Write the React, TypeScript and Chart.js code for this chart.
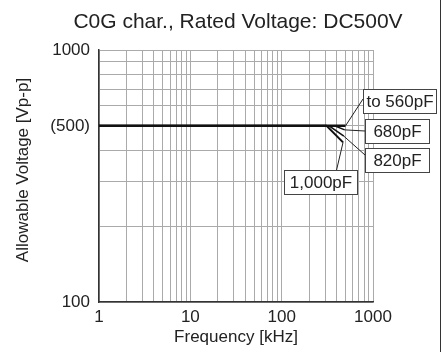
import React, { useEffect, useRef } from "react";
import { Chart, registerables } from "chart.js";

Chart.register(...registerables);

// ---- data ----
const seriesNames = ["to 560pF", "680pF", "820pF", "1,000pF"];
const freq560 = [1, 500];
const volt560 = [500, 500];
const freq680 = [1, 380, 490];
const volt680 = [500, 500, 482];
const freq820 = [1, 330, 480];
const volt820 = [500, 500, 455];
const freq1000 = [1, 310, 470];
const volt1000 = [500, 500, 430];

const xTickValues = [1, 2, 3, 4, 5, 6, 7, 8, 9, 10, 20, 30, 40, 50, 60, 70, 80, 90, 100, 200, 300, 400, 500, 600, 700, 800, 900, 1000];
const xTickLabels: Record<number, string> = { 1: "1", 10: "10", 100: "100", 1000: "1000" };
const yTickValues = [100, 200, 300, 400, 500, 600, 700, 800, 900, 1000];
const yTickLabels: Record<number, string> = { 100: "100", 500: "(500)", 1000: "1000" };

const titleText = "C0G char., Rated Voltage: DC500V";
const xTitle = "Frequency [kHz]";
const yTitle = "Allowable Voltage [Vp-p]";

// callout label anchors (data space: left-middle of box)
const labelFreq = [779, 819, 819, 106];
const labelVolt = [625, 479, 366, 298];

const FONT = "'Liberation Sans', Arial, Helvetica, sans-serif";
const boxWidths = [73, 64, 64, 73];

function pts(xs: number[], ys: number[]) {
  return xs.map((x, i) => ({ x, y: ys[i] }));
}

const calloutPlugin = {
  id: "callouts",
  afterDatasetsDraw(chart: any) {
    const { ctx } = chart;
    const xs = chart.scales.x;
    const ys = chart.scales.y;
    ctx.save();
    ctx.font = `17px ${FONT}`;
    ctx.textBaseline = "middle";
    ctx.textAlign = "center";
    chart.data.datasets.forEach((ds: any, i: number) => {
      const last = ds.data[ds.data.length - 1];
      const ex = xs.getPixelForValue(last.x);
      const ey = ys.getPixelForValue(last.y);
      const bx = Math.round(xs.getPixelForValue(labelFreq[i]));
      const by = Math.round(ys.getPixelForValue(labelVolt[i]));
      const text = seriesNames[i];
      const w = boxWidths[i];
      const h = 24;
      let ax = bx, ay = by;
      if (i === 3) {
        ax = bx + w * 0.72;
        ay = by - h / 2;
      } else if (i === 2) {
        ay = by - 5;
      } else if (i === 0) {
        ay = by - 2;
      }
      ctx.strokeStyle = "#222";
      ctx.lineWidth = 1;
      ctx.beginPath();
      ctx.moveTo(ex, ey);
      ctx.lineTo(ax, ay);
      ctx.stroke();
      ctx.fillStyle = "#fff";
      ctx.fillRect(bx, by - h / 2, w, h);
      ctx.strokeStyle = "#444";
      ctx.strokeRect(bx + 0.5, by - h / 2 + 0.5, w, h);
      ctx.fillStyle = "#222";
      ctx.fillText(text, bx + w / 2 + 0.5, by + 1);
    });
    ctx.restore();
  },
  afterDraw(chart: any) {
    const { ctx } = chart;
    ctx.save();
    ctx.fillStyle = "#222";
    ctx.textAlign = "center";
    ctx.textBaseline = "middle";
    ctx.font = `21px ${FONT}`;
    ctx.fillText(titleText, 238, 22);
    ctx.font = `17px ${FONT}`;
    ctx.translate(23, 170);
    ctx.rotate(-Math.PI / 2);
    ctx.fillText(yTitle, 0, 0);
    ctx.setTransform(1, 0, 0, 1, 0, 0);
    // page frame at right
    ctx.strokeStyle = "#333";
    ctx.lineWidth = 1;
    ctx.beginPath();
    ctx.moveTo(440.5, 0);
    ctx.lineTo(440.5, 352);
    ctx.stroke();
    ctx.restore();
  },
};

export default function App() {
  const ref = useRef<HTMLCanvasElement | null>(null);
  useEffect(() => {
    if (!ref.current) return;
    const lineStyle = { borderColor: "#111", backgroundColor: "#111", pointRadius: 0, fill: false, tension: 0 };
    const chart = new Chart(ref.current, {
      type: "line",
      data: {
        datasets: [
          { label: seriesNames[0], data: pts(freq560, volt560), borderWidth: 2.5, ...lineStyle },
          { label: seriesNames[1], data: pts(freq680, volt680), borderWidth: 1.5, ...lineStyle },
          { label: seriesNames[2], data: pts(freq820, volt820), borderWidth: 1.5, ...lineStyle },
          { label: seriesNames[3], data: pts(freq1000, volt1000), borderWidth: 2, ...lineStyle },
        ],
      },
      options: {
        animation: false,
        responsive: false,
        parsing: false as any,
        layout: { padding: { top: 50, right: 70, left: 0, bottom: 0 } },
        plugins: { legend: { display: false }, tooltip: { enabled: false }, title: { display: false } },
        scales: {
          x: {
            type: "logarithmic",
            min: 1,
            max: 1000,
            afterBuildTicks: (s: any) => { s.ticks = xTickValues.map((v) => ({ value: v })); },
            afterFit: (s: any) => { s.height = 50; },
            ticks: {
              autoSkip: false,
              maxRotation: 0,
              padding: 5,
              color: "#222",
              font: { family: FONT, size: 17 },
              callback: (v: any) => xTickLabels[v as number] ?? "",
            },
            grid: { color: "#aaa", lineWidth: 1, drawTicks: false },
            border: { color: "#333", width: 1.5 },
            title: { display: true, text: xTitle, color: "#222", font: { family: FONT, size: 17 }, padding: { top: 0, bottom: 4 } },
          },
          y: {
            type: "logarithmic",
            min: 100,
            max: 1000,
            afterBuildTicks: (s: any) => { s.ticks = yTickValues.map((v) => ({ value: v })); },
            afterFit: (s: any) => { s.width = 99; },
            ticks: {
              autoSkip: false,
              padding: 9,
              color: "#222",
              font: { family: FONT, size: 17 },
              callback: (v: any) => yTickLabels[v as number] ?? "",
            },
            grid: { color: "#aaa", lineWidth: 1, drawTicks: false },
            border: { color: "#333", width: 1.5 },
            title: { display: false, text: yTitle },
          },
        },
      },
      plugins: [calloutPlugin],
    });
    return () => chart.destroy();
  }, []);
  return (
    <div style={{ position: "absolute", left: 0, top: 0, width: 443, height: 352, background: "#fff" }}>
      <canvas ref={ref} width={443} height={352} />
    </div>
  );
}
